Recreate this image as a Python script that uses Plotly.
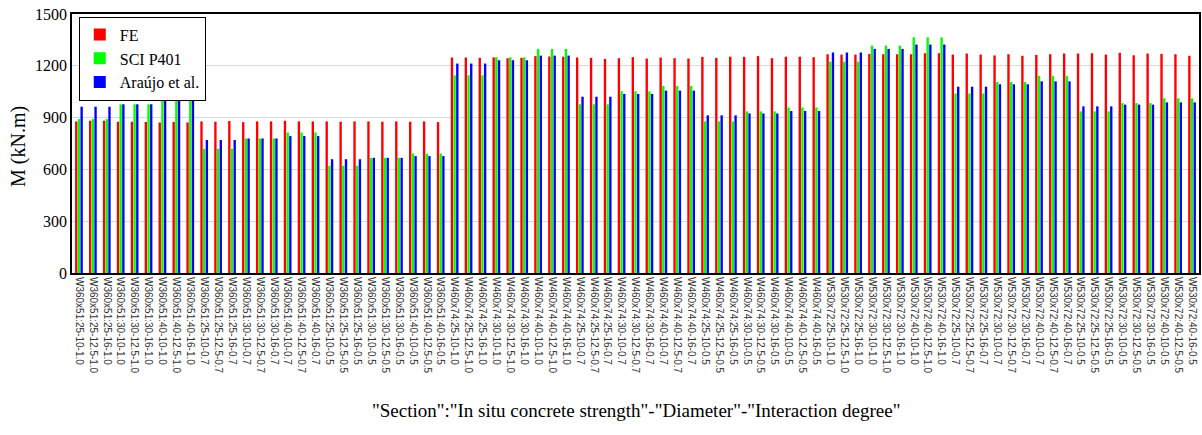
import plotly.graph_objects as go

# Category labels: "Section":"Concrete strength"-"Diameter"-"Interaction degree"
sections = ["W360x51", "W460x74", "W530x72"]
degrees = ["1.0", "0.7", "0.5"]
strengths = ["25", "30", "40"]
diameters = ["10", "12.5", "16"]

categories = []
for sec in sections:
    for deg in degrees:
        for fc in strengths:
            for d in diameters:
                categories.append(f"{sec}:{fc}-{d}-{deg}")

# Moment values (kN.m)
fe = [
    878, 882, 882, 876, 876, 875, 872, 875, 872,
    878, 876, 880, 874, 878, 878, 882, 878, 878,
    878, 876, 878, 878, 876, 878, 876, 878, 874,
    1248, 1248, 1246, 1249, 1244, 1246, 1256, 1254, 1253,
    1248, 1246, 1240, 1244, 1250, 1242, 1248, 1244, 1242,
    1252, 1246, 1253, 1252, 1256, 1244, 1253, 1253, 1250,
    1267, 1265, 1265, 1269, 1267, 1267, 1267, 1273, 1273,
    1265, 1271, 1265, 1260, 1267, 1258, 1263, 1267, 1271,
    1271, 1273, 1265, 1275, 1261, 1271, 1269, 1267, 1258,
]
sci_p401 = [
    891, 891, 891, 977, 977, 977, 1023, 1023, 1023,
    720, 720, 720, 779, 779, 779, 814, 814, 814,
    621, 621, 621, 667, 667, 667, 692, 692, 692,
    1145, 1145, 1145, 1249, 1249, 1249, 1298, 1298, 1298,
    977, 977, 977, 1052, 1052, 1052, 1083, 1083, 1083,
    878, 878, 878, 936, 936, 936, 959, 959, 959,
    1224, 1224, 1224, 1317, 1317, 1317, 1365, 1365, 1365,
    1040, 1040, 1040, 1106, 1106, 1106, 1141, 1141, 1141,
    936, 936, 936, 984, 984, 984, 1012, 1012, 1012,
]
araujo = [
    963, 963, 963, 977, 977, 977, 996, 996, 996,
    770, 770, 770, 779, 779, 779, 793, 793, 793,
    659, 659, 659, 667, 667, 667, 677, 677, 677,
    1213, 1213, 1213, 1232, 1232, 1232, 1259, 1259, 1259,
    1021, 1021, 1021, 1037, 1037, 1037, 1056, 1056, 1056,
    913, 913, 913, 924, 924, 924, 938, 938, 938,
    1277, 1277, 1277, 1298, 1298, 1298, 1323, 1323, 1323,
    1079, 1079, 1079, 1093, 1093, 1093, 1110, 1110, 1110,
    965, 965, 965, 975, 975, 975, 988, 988, 988,
]

serif = "Liberation Serif, Times New Roman, serif"
sans = "Liberation Sans, Arial, sans-serif"

fig = go.Figure()
fig.add_trace(go.Bar(x=categories, y=fe, name="FE", marker=dict(color="#FF0000", line=dict(width=0))))
fig.add_trace(go.Bar(x=categories, y=sci_p401, name="SCI P401", marker=dict(color="#00FF00", line=dict(width=0))))
fig.add_trace(go.Bar(x=categories, y=araujo, name="Araújo et al.", marker=dict(color="#0000FF", line=dict(width=0))))

fig.update_layout(
    width=1202, height=435,
    margin=dict(l=72, r=3, t=14, b=162, autoexpand=False),
    paper_bgcolor="white", plot_bgcolor="white",
    barmode="group", bargap=0.42, bargroupgap=0.12,
    font=dict(family=serif, color="black"),
    legend=dict(
        x=0.006, y=0.99, xanchor="left", yanchor="top",
        bgcolor="white", bordercolor="black", borderwidth=1,
        font=dict(family=serif, size=16, color="black"),
        tracegroupgap=0, itemwidth=30,
    ),
    showlegend=True,
)
fig.update_xaxes(
    type="category", tickangle=90, automargin=False,
    tickfont=dict(family=sans, size=10, color="#333333"),
    showline=True, linecolor="black", linewidth=2, mirror=True,
    ticks="", showgrid=False,
)
fig.update_yaxes(
    range=[0, 1500], tickvals=[0, 300, 600, 900, 1200, 1500], automargin=False,
    tickfont=dict(family=serif, size=16, color="black"),
    showline=True, linecolor="black", linewidth=1.5, mirror=True,
    showgrid=True, gridcolor="#D9D9D9", gridwidth=1, zeroline=False,
    ticks="", ticklen=0,
)

# Axis titles placed as annotations to match the reference positions
fig.add_annotation(
    text='"Section":"In situ concrete strength"-"Diameter"-"Interaction degree"',
    xref="paper", yref="paper", x=0.5, y=-0.529, xanchor="center", yanchor="middle",
    showarrow=False, font=dict(family=serif, size=19, color="black"),
)
fig.add_annotation(
    text="M (kN.m)", textangle=-90,
    xref="paper", yref="paper", x=-0.048, y=0.49, xanchor="center", yanchor="middle",
    showarrow=False, font=dict(family=serif, size=20, color="black"),
)

# drop the page's default body margin so the figure sits at the top-left corner
fig.write_html("out.html", config={"displayModeBar": False},
               post_script="document.body.style.margin='0';")
